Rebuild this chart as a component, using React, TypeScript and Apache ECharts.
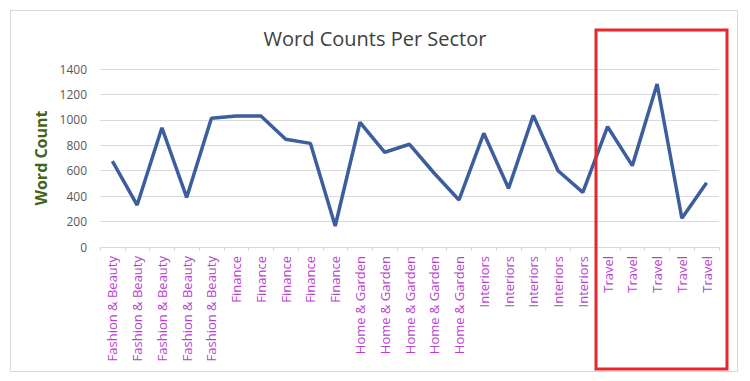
import React, { useEffect, useRef } from "react";
import * as echarts from "echarts";

const categories: string[] = [
  "Fashion & Beauty", "Fashion & Beauty", "Fashion & Beauty", "Fashion & Beauty", "Fashion & Beauty",
  "Finance", "Finance", "Finance", "Finance", "Finance",
  "Home & Garden", "Home & Garden", "Home & Garden", "Home & Garden", "Home & Garden",
  "Interiors", "Interiors", "Interiors", "Interiors", "Interiors",
  "Travel", "Travel", "Travel", "Travel", "Travel",
];

const wordCounts: number[] = [
  675, 330, 938, 390, 1012,
  1030, 1030, 847, 815, 165,
  981, 745, 808, 580, 370,
  894, 461, 1035, 600, 430,
  946, 640, 1282, 226, 506,
];

const yTicks = { min: 0, max: 1400, interval: 200 };

export default function App() {
  const ref = useRef<HTMLDivElement>(null);
  useEffect(() => {
    if (!ref.current) return;
    const chart = echarts.init(ref.current, null, { renderer: "svg" });
    const font = "'Open Sans', 'Noto Sans', sans-serif";
    chart.setOption({
      animation: false,
      backgroundColor: "#ffffff",
      title: {
        text: "Word Counts Per Sector",
        left: "center",
        top: 23,
        textStyle: { fontFamily: font, fontSize: 20, fontWeight: "normal", color: "#404040" },
      },
      grid: { left: 100, right: 31, top: 69, bottom: 134, containLabel: false },
      xAxis: {
        type: "category",
        data: categories,
        boundaryGap: true,
        axisLine: { lineStyle: { color: "#d9d9d9", width: 1 } },
        axisTick: { show: true, alignWithLabel: false, length: 4, lineStyle: { color: "#d9d9d9" } },
        axisLabel: {
          interval: 0,
          rotate: 90,
          margin: 9,
          fontFamily: font,
          fontSize: 13,
          color: "#b73fd0",
        },
        splitLine: { show: false },
      },
      yAxis: {
        type: "value",
        min: yTicks.min,
        max: yTicks.max,
        interval: yTicks.interval,
        name: "Word Count",
        nameLocation: "middle",
        nameGap: 50,
        nameTextStyle: { fontFamily: font, fontSize: 16, fontWeight: "bold", color: "#44641a" },
        axisLine: { show: false },
        axisTick: { show: false },
        axisLabel: {
          fontFamily: font,
          fontSize: 12,
          color: "#595959",
          margin: 13,
          formatter: (v: number) => String(v),
        },
        splitLine: { lineStyle: { color: "#d9d9d9", width: 1 } },
      },
      series: [
        {
          type: "line",
          data: wordCounts,
          symbol: "none",
          lineStyle: { color: "#3c5e9e", width: 3.5 },
          itemStyle: { color: "#3c5e9e" },
        },
      ],
      graphic: [
        {
          type: "rect",
          shape: { x: 10.5, y: 10.5, width: 727, height: 361 },
          style: { fill: "none", stroke: "#d9d9d9", lineWidth: 1 },
          z: 0,
        },
        {
          type: "rect",
          shape: { x: 596, y: 30, width: 131, height: 339 },
          style: { fill: "none", stroke: "#e8262b", lineWidth: 3 },
          z: 100,
        },
      ],
    });
    return () => chart.dispose();
  }, []);
  return (
    <div
      ref={ref}
      style={{ position: "fixed", left: 0, top: 0, width: 750, height: 381 }}
    />
  );
}
